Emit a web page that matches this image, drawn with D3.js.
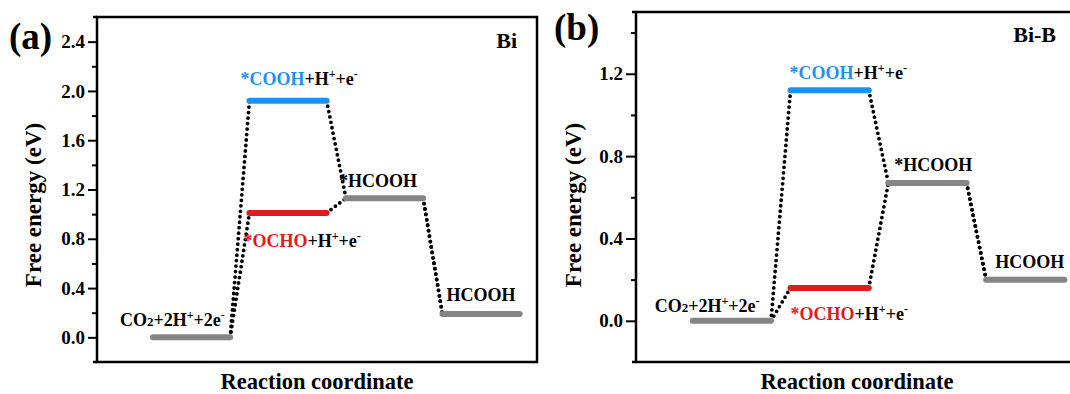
<!DOCTYPE html>
<html>
<head>
<meta charset="utf-8">
<script src="https://cdn.jsdelivr.net/npm/d3@7"></script>
<style>
  html, body { margin: 0; padding: 0; background: #ffffff; }
  svg text { font-family: "Liberation Serif", "Times New Roman", serif; font-weight: bold; }
</style>
</head>
<body>
<svg id="chart" width="1070" height="394"></svg>
<script>
// ---- data ----
const steps = [0, 1, 2, 3];
const biCOOHPath = [0.00, 1.92, 1.13, 0.19];   // via *COOH
const biOCHOPath = [0.00, 1.01, 1.13, 0.19];   // via *OCHO
const biBCOOHPath = [0.00, 1.12, 0.67, 0.20];
const biBOCHOPath = [0.00, 0.16, 0.67, 0.20];
const biTicks = [0.0, 0.4, 0.8, 1.2, 1.6, 2.0, 2.4];
const biMinorTicks = [0.2, 0.6, 1.0, 1.4, 1.8, 2.2];
const biBTicks = [0.0, 0.4, 0.8, 1.2];
const biBMinorTicks = [0.2, 0.6, 1.0, 1.4];
const panelLetters = ["(a)", "(b)"];
const panelNames = ["Bi", "Bi-B"];
const xTitle = "Reaction coordinate";
const yTitle = "Free energy (eV)";

const svg = d3.select("#chart");
const grey = "#858585", blue = "#1e90f5", red = "#e31a1c";

const panels = [
  { left: 97, right: 537, top: 17, bottom: 362, yDomain: [-0.2, 2.6],
    main: biCOOHPath, alt: biOCHOPath, ticks: biTicks, minor: biMinorTicks,
    letter: panelLetters[0], name: panelNames[0],
    letterPos: [9, 49], namePos: [517, 48], yTitleX: 33, tickLen: 9,
    lab: { co2: [-33, -11], cooh: [-9, -16], ocho: [-6, 34], hcooh1: [-7, -11], hcooh2: [4, -13] } },
  { left: 636, right: 1082, top: 12, bottom: 362, yDomain: [-0.2, 1.5],
    main: biBCOOHPath, alt: biBOCHOPath, ticks: biBTicks, minor: biBMinorTicks,
    letter: panelLetters[1], name: panelNames[1],
    letterPos: [554, 40], namePos: [1056, 42], yTitleX: 573, tickLen: 10,
    lab: { co2: [-38, -9], cooh: [-1, -11], ocho: [0, 32], hcooh1: [6, -12], hcooh2: [9, -12] } }
];

function addLabel(g, x, y, parts) {
  const t = g.append("text").attr("x", x).attr("y", y).attr("font-size", 18);
  parts.forEach(p => {
    const ts = t.append("tspan").text(p.t).attr("fill", p.c || "#000");
    if (p.sup) ts.attr("font-size", 12).attr("dy", -7);
    if (p.sub) ts.attr("font-size", 13).attr("dy", 0);
    if (p.back) ts.attr("dy", p.back);
  });
}

panels.forEach(P => {
  const g = svg.append("g");
  const x = d3.scaleLinear().domain([-0.98, 3.58]).range([P.left, P.right]);
  const y = d3.scaleLinear().domain(P.yDomain).range([P.bottom, P.top]);

  // minor ticks
  g.append("g").attr("transform", `translate(${P.left},0)`)
    .call(d3.axisLeft(y).tickValues(P.minor).tickSize(5).tickFormat(""))
    .call(a => a.select(".domain").remove())
    .call(a => a.selectAll("line").attr("stroke", "#000").attr("stroke-width", 2));
  // major ticks
  g.append("g").attr("transform", `translate(${P.left},0)`)
    .call(d3.axisLeft(y).tickValues(P.ticks).tickSize(P.tickLen).tickPadding(3).tickFormat(d3.format(".1f")))
    .call(a => a.select(".domain").remove())
    .call(a => a.selectAll("line").attr("stroke", "#000").attr("stroke-width", 2))
    .call(a => a.selectAll("text").attr("font-size", 19).attr("fill", "#000")
      .style("font-family", '"Liberation Serif", "Times New Roman", serif').style("font-weight", "bold"));

  // frame
  g.append("rect").attr("x", P.left).attr("y", P.top)
    .attr("width", P.right - P.left).attr("height", P.bottom - P.top)
    .attr("fill", "none").attr("stroke", "#000").attr("stroke-width", 2.5);
  g.append("line").attr("x1", P.left - 4).attr("x2", P.left).attr("y1", P.top).attr("y2", P.top)
    .attr("stroke", "#000").attr("stroke-width", 2.5);
  g.append("line").attr("x1", P.left - 4).attr("x2", P.left).attr("y1", P.bottom).attr("y2", P.bottom)
    .attr("stroke", "#000").attr("stroke-width", 2.5);

  // dotted connectors
  const conns = [];
  [P.main, P.alt].forEach(path => {
    for (let i = 0; i < steps.length - 1; i++) {
      conns.push([[steps[i] + 0.4, path[i]], [steps[i + 1] - 0.4, path[i + 1]]]);
    }
  });
  g.selectAll("line.conn").data(conns).enter().append("line").attr("class", "conn")
    .attr("x1", d => x(d[0][0])).attr("y1", d => y(d[0][1]))
    .attr("x2", d => x(d[1][0])).attr("y2", d => y(d[1][1]))
    .attr("stroke", "#000").attr("stroke-width", 3.8)
    .attr("stroke-linecap", "round").attr("stroke-dasharray", "0,5.5");

  // level lines
  const levels = [];
  steps.forEach((s, i) => {
    levels.push({ s, e: P.main[i], c: i === 1 ? blue : grey });
    if (i === 1) levels.push({ s, e: P.alt[i], c: red });
  });
  g.selectAll("line.lvl").data(levels).enter().append("line").attr("class", "lvl")
    .attr("x1", d => x(d.s - 0.4)).attr("x2", d => x(d.s + 0.4))
    .attr("y1", d => y(d.e)).attr("y2", d => y(d.e))
    .attr("stroke", d => d.c).attr("stroke-width", 6).attr("stroke-linecap", "round");

  // level labels
  const L = P.lab;
  addLabel(g, x(steps[0] - 0.4) + L.co2[0], y(P.main[0]) + L.co2[1],
    [{ t: "CO" }, { t: "2", sub: true }, { t: "+2H" }, { t: "+", sup: true }, { t: "+2e", back: 7 }, { t: "-", sup: true }]);
  addLabel(g, x(steps[1] - 0.4) + L.cooh[0], y(P.main[1]) + L.cooh[1],
    [{ t: "*COOH", c: blue }, { t: "+H" }, { t: "+", sup: true }, { t: "+e", back: 7 }, { t: "-", sup: true }]);
  addLabel(g, x(steps[1] - 0.4) + L.ocho[0], y(P.alt[1]) + L.ocho[1],
    [{ t: "*OCHO", c: red }, { t: "+H" }, { t: "+", sup: true }, { t: "+e", back: 7 }, { t: "-", sup: true }]);
  addLabel(g, x(steps[2] - 0.4) + L.hcooh1[0], y(P.main[2]) + L.hcooh1[1], [{ t: "*HCOOH" }]);
  addLabel(g, x(steps[3] - 0.4) + L.hcooh2[0], y(P.main[3]) + L.hcooh2[1], [{ t: "HCOOH" }]);

  // panel letter and name
  g.append("text").attr("x", P.letterPos[0]).attr("y", P.letterPos[1]).attr("font-size", 37).text(P.letter);
  g.append("text").attr("x", P.namePos[0]).attr("y", P.namePos[1]).attr("font-size", 22)
    .attr("text-anchor", "end").text(P.name);

  // axis titles
  g.append("text").attr("x", (P.left + Math.min(P.right, 1078)) / 2).attr("y", 389)
    .attr("text-anchor", "middle").attr("font-size", 22.5).text(xTitle);
  g.append("text").attr("transform", `translate(${P.yTitleX + 8},205) rotate(-90)`)
    .attr("text-anchor", "middle").attr("font-size", 23).text(yTitle);
});
</script>
</body>
</html>
